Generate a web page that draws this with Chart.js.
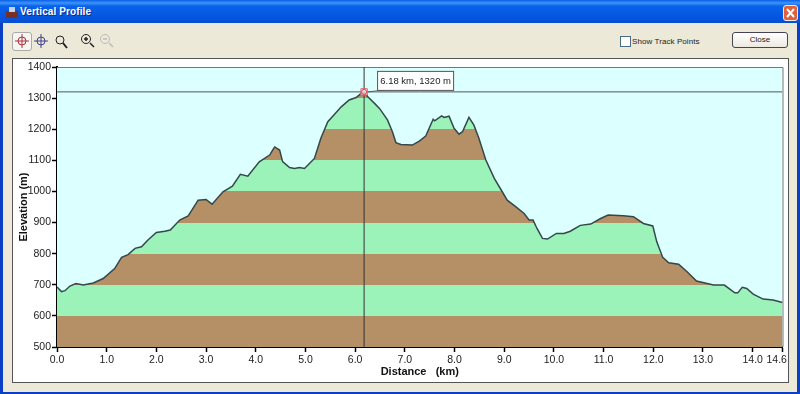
<!DOCTYPE html>
<html><head><meta charset="utf-8">
<script src="https://cdn.jsdelivr.net/npm/chart.js@4"></script>
<style>
html,body{margin:0;padding:0;background:#0a3fb8;overflow:hidden}
#win{position:absolute;left:0;top:0;width:800px;height:394px;overflow:hidden;background:#0B3FC4;font-family:"Liberation Sans",Arial,sans-serif}
#title{position:absolute;left:0;top:0;width:800px;height:23px;background:linear-gradient(#0a5fe6 0,#3d95fb 3px,#0a62ea 6px,#0555e0 17px,#0a4fd0 23px)}
#title span{position:absolute;left:20px;top:6px;color:#fff;font-weight:bold;font-size:10px;letter-spacing:.1px;text-shadow:1px 1px 0 #0a2f90}
#body{position:absolute;left:3px;top:23px;width:794px;height:369px;background:#ECE9D8}
#panel{position:absolute;left:12px;top:58px;width:775px;height:323px;background:#fff;border:1px solid #555}
#cv{position:absolute;left:12px;top:58px}
#x{position:absolute;left:783px;top:5px;width:15px;height:16px;border-radius:3px;background:#e0603c;border:1px solid #eee;box-sizing:border-box}
#tb{position:absolute;left:12px;top:32px;width:20px;height:19px;border:1px solid #aaa;border-radius:3px;background:#f6f5ef;box-sizing:border-box}
#chk{position:absolute;left:620px;top:36px;width:9px;height:9px;border:1px solid #4a6a8a;background:#fff}
#lbl{position:absolute;left:632px;top:36px;font-size:8px;line-height:11px;color:#222;letter-spacing:.01em}
#close{position:absolute;left:732px;top:32px;width:56px;height:16px;border:1px solid #445;border-radius:3px;background:linear-gradient(#fff,#ece9e0);font-size:8px;line-height:14px;text-align:center;color:#222;box-sizing:border-box}
svg{position:absolute}
</style></head><body>
<div id="win">
<div id="title"><span>Vertical Profile</span></div>
<div id="body"></div>
<svg style="left:5px;top:5px" width="14" height="14"><rect x="1" y="6" width="12" height="7" fill="#7a3020"/><rect x="4" y="2" width="6" height="5" fill="#c9d3e8"/></svg>
<div id="x"><svg style="left:0;top:0" width="13" height="14"><path d="M3 3L10 11M10 3L3 11" stroke="#fff" stroke-width="2"/></svg></div>
<div id="tb"></div>
<svg style="left:12px;top:31px" width="110" height="20" fill="none">
<g stroke="#b03040"><circle cx="10" cy="10" r="4"/><path d="M10 3v14M3 10h14"/></g>
<g stroke="#404090"><circle cx="29" cy="10" r="4"/><path d="M29 3v14M22 10h14"/></g>
<g stroke="#222"><circle cx="48" cy="9" r="4"/><path d="M51 12l4 5" stroke-width="2"/></g>
<g stroke="#222"><circle cx="74" cy="8" r="4.5"/><path d="M78 12l4 4M72 8h4M74 6v4" stroke-width="1.5"/></g>
<g stroke="#bbb"><circle cx="93" cy="8" r="4.5"/><path d="M97 12l4 4M91 8h4" stroke-width="1.5"/></g>
</svg>
<div id="chk"></div><div id="lbl">Show Track Points</div>
<div id="close">Close</div>
<div id="panel"></div>
<canvas id="cv" width="776" height="324" style="width:776px;height:324px"></canvas>
</div>
<script>
const distanceKm = [0,0.09,0.16,0.26,0.38,0.53,0.73,0.93,1.16,1.30,1.43,1.57,1.70,1.83,2.0,2.17,2.28,2.47,2.64,2.84,3.0,3.12,3.34,3.53,3.69,3.84,4.07,4.28,4.34,4.38,4.48,4.54,4.68,4.78,4.88,4.98,5.08,5.18,5.31,5.45,5.55,5.72,5.88,6.02,6.12,6.18,6.25,6.39,6.49,6.65,6.75,6.82,6.92,7.15,7.29,7.42,7.57,7.6,7.74,7.79,7.89,7.99,8.09,8.16,8.29,8.39,8.49,8.63,8.8,8.96,9.06,9.23,9.4,9.5,9.58,9.66,9.77,9.87,10.05,10.2,10.33,10.53,10.74,10.94,11.09,11.4,11.6,11.8,11.99,12.07,12.19,12.31,12.51,12.68,12.87,13.21,13.43,13.64,13.7,13.79,13.88,14.01,14.21,14.41,14.6];
const elevationM = [693,678,681,696,704,699,706,720,752,788,797,817,822,844,868,872,876,908,921,972,974,959,999,1017,1055,1049,1095,1117,1133,1143,1133,1096,1077,1074,1077,1074,1090,1106,1171,1224,1242,1272,1294,1302,1315,1320,1305,1283,1267,1230,1192,1157,1151,1149,1162,1178,1232,1227,1243,1238,1242,1203,1184,1192,1238,1213,1171,1101,1042,999,972,951,929,908,908,881,849,847,865,865,872,891,895,913,924,922,919,897,889,838,788,771,766,742,712,699,699,674,674,692,688,670,654,651,643];
const xTicks = [0,1,2,3,4,5,6,7,8,9,10,11,12,13,14,14.6];
const yTicks = [500,600,700,800,900,1000,1100,1200,1300,1400];
const cursorKm = 6.18, cursorM = 1320;
const cursorLabel = "6.18 km, 1320 m";
const SKY="#DCFFFF", GREEN="#9BF3BA", BROWN="#B58F66";
const FONT='"Liberation Sans",Arial,sans-serif';

function bands(ctx){
  const c=ctx.chart, a=c.chartArea; if(!a) return GREEN;
  const y=c.scales.y, g=c.ctx.createLinearGradient(0,a.bottom,0,a.top);
  const span=a.bottom-a.top;
  for(let i=0;i<yTicks.length-1;i++){
    const col=i%2?GREEN:BROWN;
    g.addColorStop((a.bottom-y.getPixelForValue(yTicks[i]))/span,col);
    g.addColorStop((a.bottom-y.getPixelForValue(yTicks[i+1]))/span,col);
  }
  return g;
}
const frame={id:'frame',
  beforeDatasetsDraw(c){const a=c.chartArea,x=c.ctx;x.save();x.fillStyle=SKY;x.fillRect(a.left,a.top,a.width,a.height);
    x.strokeStyle='#777';x.lineWidth=1;x.beginPath();x.moveTo(a.left,a.top+.5);x.lineTo(a.right+.5,a.top+.5);x.lineTo(a.right+.5,a.bottom);x.stroke();x.restore();},
  afterDraw(c){const x=c.ctx,px=c.scales.x.getPixelForValue(cursorKm),py=c.scales.y.getPixelForValue(cursorM);
    const bx=px+13.5,by=py-20.5,bw=76,bh=19;
    x.save();
    x.fillStyle='#fff';x.strokeStyle='#555';x.lineWidth=1;
    x.beginPath();x.moveTo(px+4,py);x.lineTo(bx+2,by+bh-2);x.lineTo(bx+14,by+bh-.5);x.closePath();x.fill();
    x.beginPath();x.moveTo(px+4,py);x.lineTo(bx+12,by+bh-1);x.stroke();
    x.fillRect(bx,by,bw,bh);x.strokeRect(bx,by,bw,bh);
    x.fillStyle='#222';x.font='9.5px '+FONT;x.textBaseline='middle';x.textAlign='center';
    x.fillText(cursorLabel,bx+bw/2,by+bh/2+.5);
    x.restore();}
};
new Chart(document.getElementById('cv'),{
  type:'line',
  plugins:[frame],
  data:{datasets:[
    {label:'markerRing',data:[{x:cursorKm,y:cursorM}],showLine:false,pointStyle:'circle',pointRadius:2.5,pointBackgroundColor:'rgba(0,0,0,0)',pointBorderColor:'#d8404a',pointBorderWidth:1,order:0},
    {label:'marker',data:[{x:cursorKm,y:cursorM}],showLine:false,pointStyle:'rect',pointRadius:4.5,pointBackgroundColor:'rgba(255,255,255,.75)',pointBorderColor:'#d8606a',pointBorderWidth:1,order:1},
    {label:'cursorV',data:[{x:cursorKm,y:yTicks[0]},{x:cursorKm,y:yTicks[9]}],borderColor:'#333',borderWidth:1,pointRadius:0,order:2},
    {label:'cursorH',data:[{x:xTicks[0],y:cursorM},{x:xTicks[15],y:cursorM}],borderColor:'#555',borderWidth:1,pointRadius:0,order:2},
    {label:'Elevation',data:distanceKm.map((d,i)=>({x:d,y:elevationM[i]})),borderColor:'#35474a',borderWidth:1.5,pointRadius:0,tension:0,fill:'start',backgroundColor:bands,order:3}
  ]},
  options:{
    responsive:false,animation:false,
    layout:{padding:{left:0,right:4,top:9,bottom:0}},
    plugins:{legend:{display:false},tooltip:{enabled:false}},
    scales:{
      x:{type:'linear',min:0,max:14.6,
        afterBuildTicks(s){s.ticks=xTicks.map(v=>({value:v}));},
        afterFit(s){s.height=35;s.paddingLeft=0;s.paddingRight=0;},
        border:{color:'#000',width:2},
        grid:{drawOnChartArea:false,tickColor:'#000',tickLength:5,tickWidth:1.5},
        ticks:{autoSkip:false,maxRotation:0,padding:2,color:'#222',font:{family:FONT,size:10.5},
          callback:v=>v===xTicks[15]?v.toFixed(1)+'\u00A0\u00A0\u00A0\u00A0':v.toFixed(1)},
        title:{display:true,text:'Distance   (km)',color:'#111',font:{family:FONT,size:11,weight:'bold'},padding:{top:0,bottom:3}}
      },
      y:{type:'linear',min:500,max:1400,
        afterBuildTicks(s){s.ticks=yTicks.map(v=>({value:v}));},
        afterFit(s){s.width=45;s.paddingTop=0;s.paddingBottom=0;},
        border:{color:'#000',width:2},
        grid:{drawOnChartArea:false,tickColor:'#000',tickLength:5,tickWidth:1.5},
        ticks:{autoSkip:false,padding:1,color:'#222',font:{family:FONT,size:10.5},callback:v=>String(v)},
        title:{display:true,text:'Elevation (m)',color:'#111',font:{family:FONT,size:11,weight:'bold'},padding:{top:5,bottom:0}}
      }
    }
  }
});
</script>
</body></html>
